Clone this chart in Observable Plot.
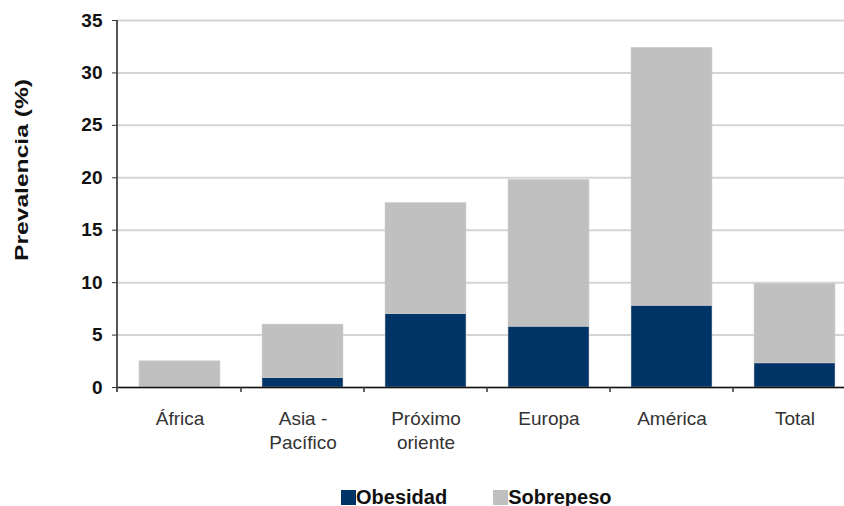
<!DOCTYPE html>
<html>
<head>
<meta charset="utf-8">
<script src="https://cdn.jsdelivr.net/npm/d3@7"></script>
<script src="https://cdn.jsdelivr.net/npm/@observablehq/plot@0.6"></script>
<style>
  body { margin: 0; background: #fff; font-family: "Liberation Sans", Arial, sans-serif; }
  #chart { width: 844px; height: 506px; overflow: hidden; position: relative; }
  .legend { display: flex; align-items: center; height: 36px; margin-top: 9px; margin-left: 341px; font-weight: bold; font-size: 20px; color: #111; }
  .legend .item { display: flex; align-items: center; margin-right: 46px; }
  .legend .sw { width: 15px; height: 15px; display: inline-block; }
</style>
</head>
<body>
<div id="chart"></div>
<script>
const categories = ["África", "Asia - Pacífico", "Próximo oriente", "Europa", "América", "Total"];
const tickLabels = ["África", "Asia -\nPacífico", "Próximo\noriente", "Europa", "América", "Total"];
const series = ["Obesidad", "Sobrepeso"];
const obesidad = [0, 0.9, 7.0, 5.8, 7.8, 2.3];
const sobrepeso = [2.5, 5.1, 10.6, 14.0, 24.6, 7.6];
const yTicks = [0, 5, 10, 15, 20, 25, 30, 35];
const colors = ["#003366", "#c0c0c0"];

const data = [];
categories.forEach((c, i) => {
  data.push({cat: c, serie: series[0], value: obesidad[i]});
  data.push({cat: c, serie: series[1], value: sobrepeso[i]});
});

// boundary ticks between categories and the y axis line, computed from the scales
function axisLines(index, scales, values, dimensions) {
  const x = scales.x;
  const step = x.step(), bw = x.bandwidth();
  const y0 = scales.y(0);
  const g = d3.create("svg:g");
  const pos = categories.slice(1).map(c => x(c) - (step - bw) / 2);
  g.selectAll("line").data(pos).join("line")
    .attr("x1", d => d).attr("x2", d => d)
    .attr("y1", y0).attr("y2", y0 + 5)
    .attr("stroke", "#333").attr("stroke-width", 1.5);
  g.append("line")
    .attr("x1", dimensions.marginLeft).attr("x2", dimensions.marginLeft)
    .attr("y1", scales.y(35)).attr("y2", y0 + 5)
    .attr("stroke", "#555").attr("stroke-width", 2);
  return g.node();
}

const chart = Plot.plot({
  width: 844,
  height: 470,
  marginLeft: 117,
  marginRight: -13,
  marginTop: 20,
  marginBottom: 83,
  style: {fontFamily: "'Liberation Sans', Arial, sans-serif", background: "#fff", overflow: "visible"},
  x: {domain: categories, paddingInner: 0.34, paddingOuter: 0.17, label: null},
  y: {domain: [0, 35], label: null},
  color: {domain: series, range: colors},
  marks: [
    Plot.gridY(yTicks, {stroke: "#d4d4d4", strokeOpacity: 1, strokeWidth: 2}),
    Plot.barY(data, {x: "cat", y: "value", fill: "serie", order: series, stroke: "#d0d0d0", strokeWidth: 0.5}),
    Plot.ruleY([0], {stroke: "#111", strokeWidth: 1.5}),
    axisLines,
    Plot.axisY(yTicks, {tickSize: 5, tickPadding: 10, fontSize: 19, fontWeight: "bold", stroke: "#333", fill: "#111", label: null}),
    Plot.axisX({tickSize: 0, tickPadding: 21, fontSize: 19, fill: "#333", lineHeight: 1.25,
      tickFormat: d => tickLabels[categories.indexOf(d)], label: null}),
    Plot.text(["Prevalencia (%)"], {frameAnchor: "left", textAnchor: "middle", dx: -95, dy: -34, rotate: -90,
      fontSize: 18, fontWeight: "bold", fill: "#111"})
  ]
});
d3.select(chart).selectAll("text").filter(function() { return this.textContent === "Prevalencia (%)"; })
  .attr("textLength", 182).attr("lengthAdjust", "spacingAndGlyphs");
document.getElementById("chart").appendChild(chart);

const legend = d3.select("#chart").append("div").attr("class", "legend");
series.forEach((s, i) => {
  const it = legend.append("div").attr("class", "item");
  it.append("span").attr("class", "sw").style("background", colors[i]);
  it.append("span").text(s);
});
</script>
</body>
</html>
